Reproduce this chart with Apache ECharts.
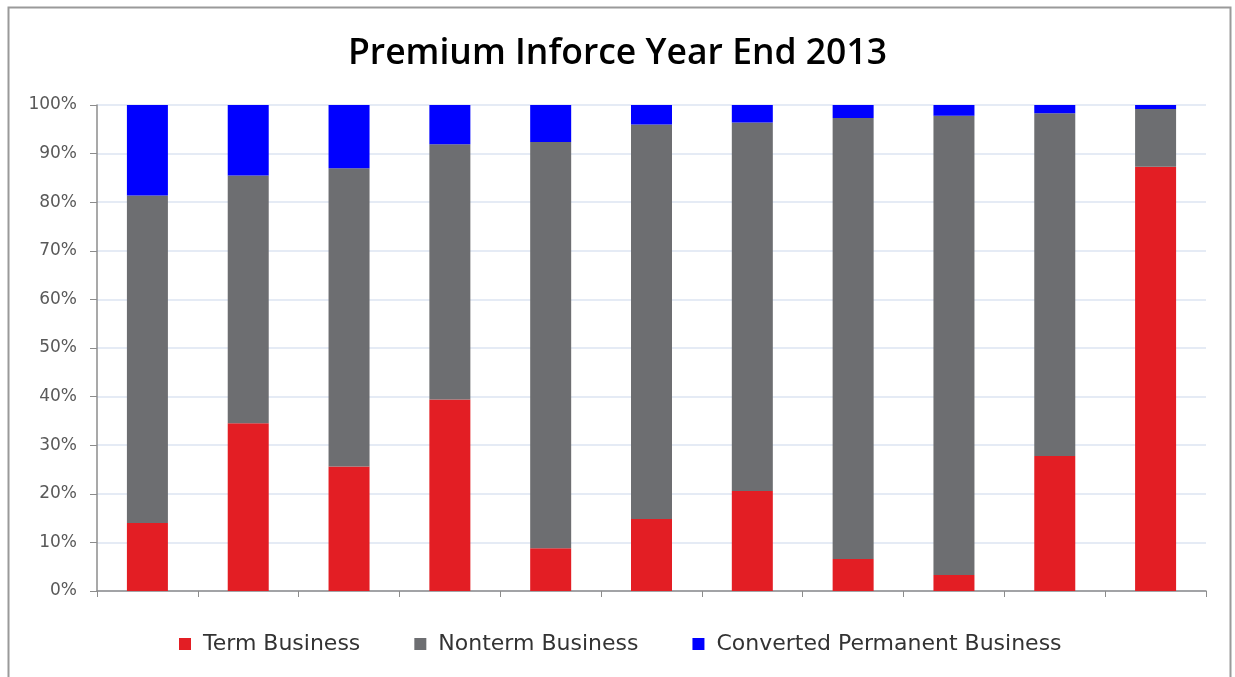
<!DOCTYPE html>
<html>
<head>
<meta charset="utf-8">
<script src="https://cdn.jsdelivr.net/npm/echarts@6/dist/echarts.min.js"></script>
<style>
html,body{margin:0;padding:0;background:#fff;}
#chart{width:1235px;height:677px;}
</style>
</head>
<body>
<div id="chart"></div>
<script>
const categories = ['1','2','3','4','5','6','7','8','9','10','11'];
const termBusiness = [14.0, 34.5, 25.6, 39.4, 8.8, 14.8, 20.6, 6.6, 3.3, 27.8, 87.3];
const nontermBusiness = [67.4, 51.0, 61.4, 52.5, 83.6, 81.2, 75.8, 90.7, 94.5, 70.5, 11.9];
const convertedBusiness = [18.6, 14.5, 13.0, 8.1, 7.6, 4.0, 3.6, 2.7, 2.2, 1.7, 0.8];
const yTicks = [0, 10, 20, 30, 40, 50, 60, 70, 80, 90, 100];

const chart = echarts.init(document.getElementById('chart'));
const titleFont = '"Open Sans", Lato, sans-serif';
const textFont = '"DejaVu Sans", "Open Sans", sans-serif';
chart.setOption({
  animation: false,
  backgroundColor: '#fff',
  graphic: [{
    type: 'rect', z: -1,
    shape: {x: 8.5, y: 7.5, width: 1222, height: 700},
    style: {fill: '#fff', stroke: '#9a9a9a', lineWidth: 2}
  }],
  title: {
    text: 'Premium Inforce Year End 2013',
    left: 'center', top: 31,
    textStyle: {fontFamily: titleFont, fontSize: 35.5, fontWeight: 600, color: '#000'}
  },
  legend: {
    left: 174, top: 628,
    itemWidth: 12, itemHeight: 12, itemGap: 54,
    icon: 'rect',
    textStyle: {fontFamily: textFont, fontSize: 22, color: '#333', padding: [0,0,0,7]},
    data: ['Term Business', 'Nonterm Business', 'Converted Permanent Business']
  },
  grid: {left: 97, right: 29, top: 105, bottom: 86},
  xAxis: {
    type: 'category', data: categories,
    axisLine: {lineStyle: {color: '#8c8c8c', width: 1.5}},
    axisTick: {show: true, length: 6, alignWithLabel: false, lineStyle: {color: '#8c8c8c'}},
    axisLabel: {show: false}
  },
  yAxis: {
    type: 'value', min: 0, max: 100, interval: 10,
    axisLine: {show: true, lineStyle: {color: '#8c8c8c', width: 1.5}},
    axisTick: {show: true, length: 7, lineStyle: {color: '#8c8c8c'}},
    axisLabel: {
      fontFamily: textFont, fontSize: 17, color: '#595959', margin: 20,
      formatter: v => yTicks.includes(v) ? v + '%' : ''
    },
    splitLine: {lineStyle: {color: '#dde4f2', width: 1.5}}
  },
  series: [
    {name: 'Term Business', type: 'bar', stack: 'a', barWidth: 41, data: termBusiness,
     itemStyle: {color: '#e31e24'}},
    {name: 'Nonterm Business', type: 'bar', stack: 'a', barWidth: 41, data: nontermBusiness,
     itemStyle: {color: '#6d6e71'}},
    {name: 'Converted Permanent Business', type: 'bar', stack: 'a', barWidth: 41, data: convertedBusiness,
     itemStyle: {color: '#0000ff'}}
  ]
});
</script>
</body>
</html>
